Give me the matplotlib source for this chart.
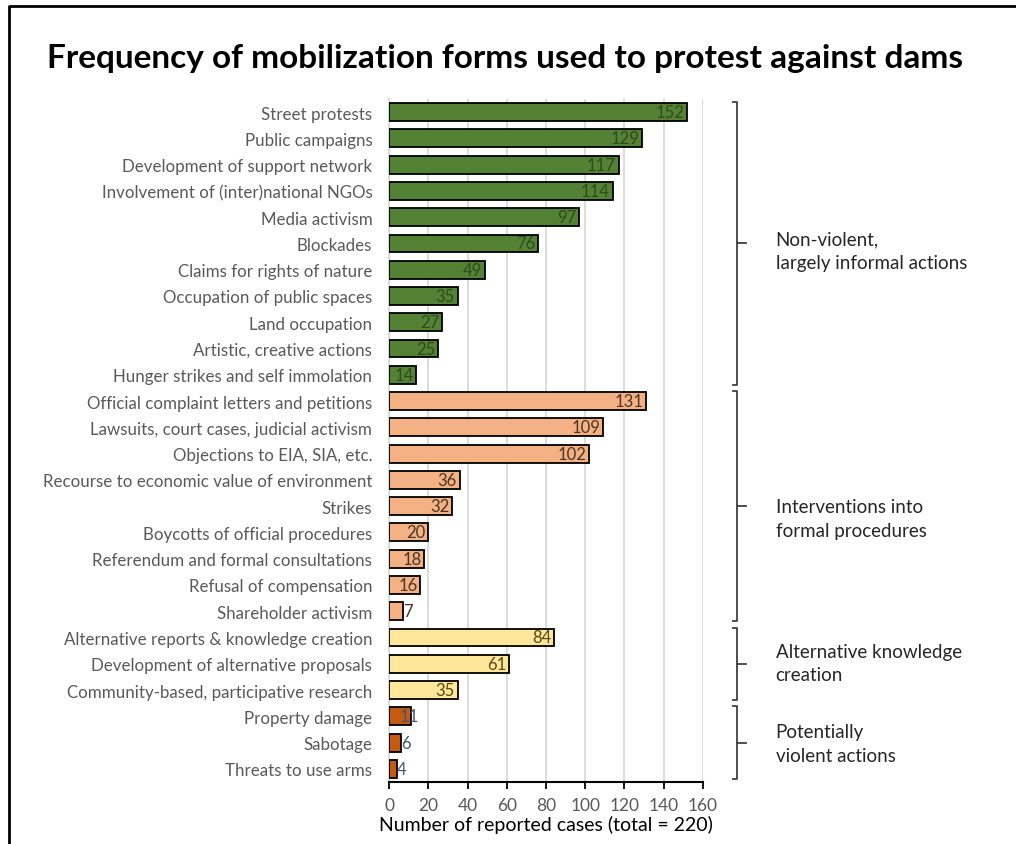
import matplotlib

matplotlib.use("Agg")
import matplotlib.pyplot as plt
from matplotlib.lines import Line2D

plt.rcParams["font.family"] = ["Lato", "DejaVu Sans"]

# data
nonviolent = [
    "Street protests",
    "Public campaigns",
    "Development of support network",
    "Involvement of (inter)national NGOs",
    "Media activism",
    "Blockades",
    "Claims for rights of nature",
    "Occupation of public spaces",
    "Land occupation",
    "Artistic, creative actions",
    "Hunger strikes and self immolation",
]
nonviolent_vals = [152, 129, 117, 114, 97, 76, 49, 35, 27, 25, 14]

formal = [
    "Official complaint letters and petitions",
    "Lawsuits, court cases, judicial activism",
    "Objections to EIA, SIA, etc.",
    "Recourse to economic value of environment",
    "Strikes",
    "Boycotts of official procedures",
    "Referendum and formal consultations",
    "Refusal of compensation",
    "Shareholder activism",
]
formal_vals = [131, 109, 102, 36, 32, 20, 18, 16, 7]

knowledge = [
    "Alternative reports & knowledge creation",
    "Development of alternative proposals",
    "Community-based, participative research",
]
knowledge_vals = [84, 61, 35]

violent = ["Property damage", "Sabotage", "Threats to use arms"]
violent_vals = [11, 6, 4]

group_names = [
    "Non-violent,\nlargely informal actions",
    "Interventions into\nformal procedures",
    "Alternative knowledge\ncreation",
    "Potentially\nviolent actions",
]
group_colors = ["#548235", "#F4B183", "#FFE699", "#C55A11"]
label_colors = ["#2f4a1c", "#4a3526", "#574818", "#44546a"]

groups = [
    (nonviolent, nonviolent_vals),
    (formal, formal_vals),
    (knowledge, knowledge_vals),
    (violent, violent_vals),
]

fig = plt.figure(figsize=(10.16, 8.45), dpi=100)
ax = fig.add_axes([0.3829, 0.0734, 0.3090, 0.8083])

labels = []
row = 0
spans = []
for gi, (cats, vals) in enumerate(groups):
    start = row
    for cat, val in zip(cats, vals):
        ax.barh(row, val, height=0.68, color=group_colors[gi],
                edgecolor="black", linewidth=1.3, zorder=3)
        if val >= 14:
            ax.annotate(str(val), (val, row), xytext=(-2, 0),
                        textcoords="offset points", ha="right", va="center",
                        fontsize=12, color=label_colors[gi], zorder=4)
        else:
            ax.annotate(str(val), (val, row), xytext=(-1 if val > 9 else 0, 0),
                        textcoords="offset points", ha="left" if val < 10 else "center",
                        va="center", fontsize=12, color=label_colors[gi], zorder=4)
        labels.append(cat)
        row += 1
    spans.append((start, row - 1))

ax.set_ylim(row - 0.5, -0.5)
ax.set_xlim(0, 160)
ax.set_yticks(range(row), labels, fontsize=12.2, color="#595959")
ax.tick_params(axis="y", length=0, pad=12)
ax.set_xticks(range(0, 161, 20))
ax.tick_params(axis="x", length=5, width=1.3, color="black",
               labelsize=12.5, labelcolor="#595959", pad=6, direction="out")
ax.grid(axis="x", color="#d9d9d9", linewidth=1.3, zorder=0)
for side in ["top", "right"]:
    ax.spines[side].set_visible(False)
ax.spines["left"].set_color("#d9d9d9")
ax.spines["left"].set_linewidth(1.3)
ax.spines["bottom"].set_color("black")
ax.spines["bottom"].set_linewidth(1.5)
ax.set_xlabel("Number of reported cases (total = 220)", fontsize=14,
              color="black", labelpad=1)

# brackets and group labels on the right
text_rows = [5.27, 15.47, 20.98, 24.03]
bx = 177.3
for gi, (start, end) in enumerate(spans):
    top = max(start - 0.38, -0.5)
    bot = min(end + 0.38, row - 0.5)
    col = "#404040"
    ax.plot([bx - 2, bx, bx, bx - 2], [top, top, bot, bot], color=col,
            linewidth=1.3, clip_on=False)
    mid = (start + end) / 2
    ax.plot([bx, bx + 4.5], [mid, mid], color=col, linewidth=1.3,
            clip_on=False)
    ax.text(197, text_rows[gi], group_names[gi], ha="left", va="center",
            fontsize=13.5, color="#262626", linespacing=1.45, clip_on=False)

fig.text(0.497, 0.931, "Frequency of mobilization forms used to protest against dams",
         ha="center", va="center", fontsize=24, fontweight="bold", color="black")

# outer frame (left and top edges)
fig.add_artist(Line2D([9 / 1016, 9 / 1016, 1.0], [0.0, 1 - 7 / 845, 1 - 7 / 845],
                      transform=fig.transFigure, color="black", linewidth=2))

fig.savefig("out.png", dpi=100)
